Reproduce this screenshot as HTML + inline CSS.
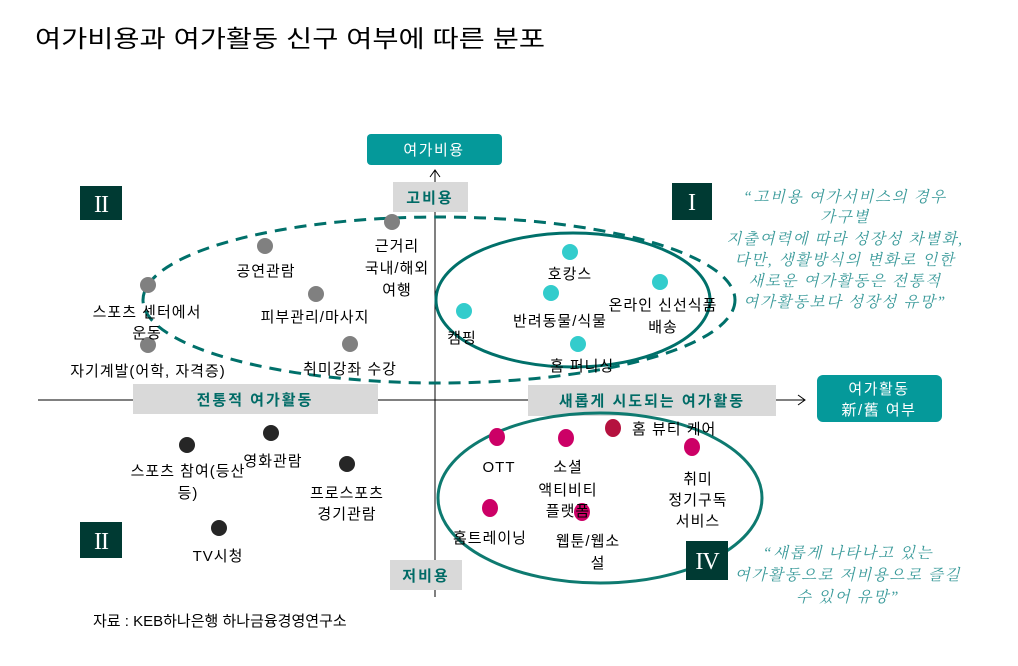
<!DOCTYPE html>
<html><head><meta charset="utf-8"><style>
html,body{margin:0;padding:0;background:#fff;}
svg{display:block;font-family:"Liberation Sans","Noto Sans CJK KR",sans-serif;}
.l{font-size:15px;fill:#000;text-anchor:middle;letter-spacing:1px;}
.q{font-size:15.5px;fill:#3a9a9a;font-style:italic;text-anchor:middle;letter-spacing:1.6px;font-family:"Liberation Serif","Noto Serif CJK SC",serif;}
.b{font-size:15px;fill:#006b66;font-weight:bold;text-anchor:middle;letter-spacing:2px;}
.w{font-size:15px;fill:#fff;text-anchor:middle;letter-spacing:1.5px;}
.r{font-size:24px;fill:#fff;text-anchor:middle;font-family:"Liberation Serif",serif;}
</style></head><body>
<svg width="1018" height="666" viewBox="0 0 1018 666">
<text x="35" y="47" font-size="24" textLength="510" lengthAdjust="spacingAndGlyphs">여가비용과 여가활동 신구 여부에 따른 분포</text>
<line x1="435" y1="170" x2="435" y2="597" stroke="#000" stroke-width="1"/>
<polyline points="430,177 435,170 440,177" fill="none" stroke="#000"/>
<line x1="38" y1="400" x2="805" y2="400" stroke="#000" stroke-width="1"/>
<polyline points="798,395 805,400 798,405" fill="none" stroke="#000"/>
<rect x="367" y="134" width="135" height="31" rx="4" fill="#05999a"/>
<text class="w" x="434" y="155">여가비용</text>
<rect x="817" y="375" width="125" height="47" rx="6" fill="#05999a"/>
<text class="w" x="879" y="394">여가활동</text>
<text class="w" x="879" y="415">新/舊 여부</text>
<rect x="393" y="182" width="75" height="30" fill="#d9d9d9"/>
<text class="b" x="430" y="203">고비용</text>
<rect x="133" y="384" width="245" height="30" fill="#d9d9d9"/>
<text class="b" x="255" y="405">전통적 여가활동</text>
<rect x="528" y="385" width="248" height="31" fill="#d9d9d9"/>
<text class="b" x="652" y="406">새롭게 시도되는 여가활동</text>
<rect x="390" y="560" width="72" height="30" fill="#d9d9d9"/>
<text class="b" x="426" y="581">저비용</text>
<ellipse cx="439" cy="300" rx="296" ry="83" fill="none" stroke="#00706a" stroke-width="3" stroke-dasharray="12,8"/>
<ellipse cx="573" cy="300" rx="137" ry="67" fill="none" stroke="#00706a" stroke-width="3"/>
<ellipse cx="600" cy="498" rx="162" ry="85" fill="none" stroke="#0e7a70" stroke-width="3"/>
<rect x="80" y="186" width="42" height="34" fill="#003a33"/><text class="r" x="101" y="212" letter-spacing="-1">II</text>
<rect x="672" y="183" width="40" height="37" fill="#003a33"/><text class="r" x="692" y="210">I</text>
<rect x="80" y="522" width="42" height="36" fill="#003a33"/><text class="r" x="101" y="549" letter-spacing="-1">II</text>
<rect x="686" y="541" width="42" height="39" fill="#003a33"/><text class="r" x="707" y="569" letter-spacing="-1">IV</text>
<g fill="#808080"><circle cx="392" cy="222" r="8"/><circle cx="265" cy="246" r="8"/><circle cx="316" cy="294" r="8"/><circle cx="148" cy="285" r="8"/><circle cx="148" cy="345" r="8"/><circle cx="350" cy="344" r="8"/></g>
<g fill="#33cccc"><circle cx="570" cy="252" r="8"/><circle cx="551" cy="293" r="8"/><circle cx="660" cy="282" r="8"/><circle cx="464" cy="311" r="8"/><circle cx="578" cy="344" r="8"/></g>
<g fill="#262626"><circle cx="187" cy="445" r="8"/><circle cx="271" cy="433" r="8"/><circle cx="347" cy="464" r="8"/><circle cx="219" cy="528" r="8"/></g>
<g fill="#cc0066"><ellipse cx="497" cy="437" rx="8" ry="9"/><ellipse cx="566" cy="438" rx="8" ry="9"/><ellipse cx="692" cy="447" rx="8" ry="9"/><ellipse cx="490" cy="508" rx="8" ry="9"/><ellipse cx="582" cy="512" rx="8" ry="9"/></g>
<ellipse cx="613" cy="428" rx="8" ry="9" fill="#b5123f"/>
<text class="l" x="397" y="251">근거리</text><text class="l" x="397" y="273">국내/해외</text><text class="l" x="397" y="295">여행</text>
<text class="l" x="266" y="276">공연관람</text>
<text class="l" x="315" y="322">피부관리/마사지</text>
<text class="l" x="147" y="317">스포츠 센터에서</text><text class="l" x="147" y="338">운동</text>
<text class="l" x="148" y="376">자기계발(어학, 자격증)</text>
<text class="l" x="350" y="374">취미강좌 수강</text>
<text class="l" x="570" y="279">호캉스</text>
<text class="l" x="560" y="326">반려동물/식물</text>
<text class="l" x="663" y="310">온라인 신선식품</text><text class="l" x="663" y="332">배송</text>
<text class="l" x="462" y="343">캠핑</text>
<text class="l" x="582" y="371">홈 퍼니싱</text>
<text class="q" x="845" y="202">“고비용 여가서비스의 경우</text>
<text class="q" x="845" y="222">가구별</text>
<text class="q" x="845" y="244">지출여력에 따라 성장성 차별화,</text>
<text class="q" x="845" y="265">다만, 생활방식의 변화로 인한</text>
<text class="q" x="845" y="286">새로운 여가활동은 전통적</text>
<text class="q" x="845" y="307">여가활동보다 성장성 유망”</text>
<text class="l" x="188" y="476">스포츠 참여(등산</text><text class="l" x="188" y="498">등)</text>
<text class="l" x="273" y="466">영화관람</text>
<text class="l" x="347" y="498">프로스포츠</text><text class="l" x="347" y="519">경기관람</text>
<text class="l" x="218" y="561">TV시청</text>
<text class="l" x="499" y="472">OTT</text>
<text class="l" x="568" y="472">소셜</text><text class="l" x="568" y="495">액티비티</text><text class="l" x="568" y="516">플랫폼</text>
<text class="l" x="632" y="434" style="text-anchor:start">홈 뷰티 케어</text>
<text class="l" x="698" y="484">취미</text><text class="l" x="698" y="505">정기구독</text><text class="l" x="698" y="526">서비스</text>
<text class="l" x="490" y="543">홈트레이닝</text>
<text class="l" x="588" y="546">웹툰/웹소</text><text class="l" x="598" y="568">설</text>
<text class="q" x="848" y="558">“새롭게 나타나고 있는</text>
<text class="q" x="848" y="580">여가활동으로 저비용으로 즐길</text>
<text class="q" x="848" y="602">수 있어 유망”</text>
<text x="93" y="626" font-size="15">자료 : KEB하나은행 하나금융경영연구소</text>
</svg>
</body></html>
